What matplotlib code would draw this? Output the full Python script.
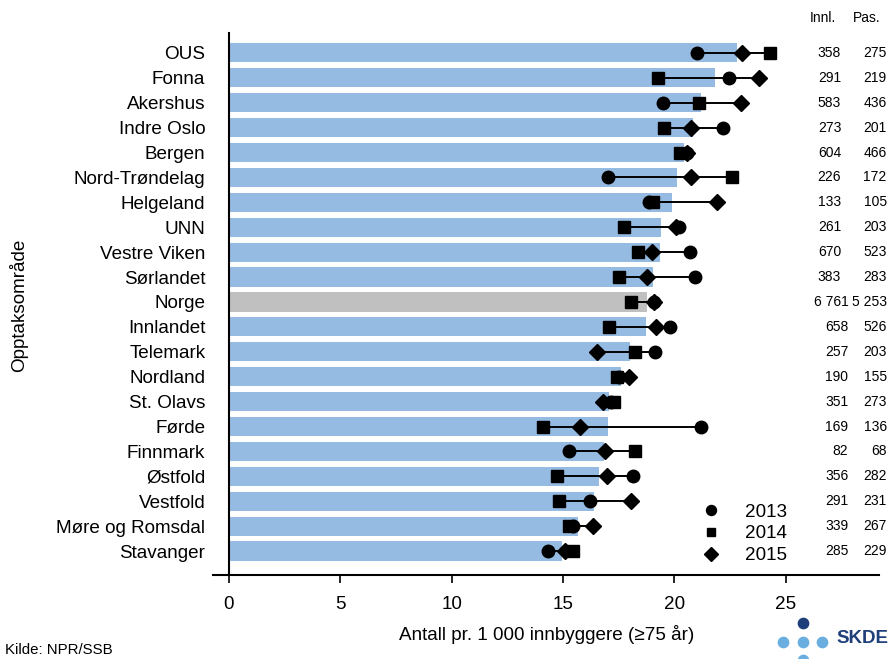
import matplotlib
matplotlib.use("Agg")
from matplotlib import pyplot as plt
from matplotlib.transforms import blended_transform_factory

areas = ["OUS", "Fonna", "Akershus", "Indre Oslo", "Bergen", "Nord-Trøndelag",
         "Helgeland", "UNN", "Vestre Viken", "Sørlandet", "Norge", "Innlandet",
         "Telemark", "Nordland", "St. Olavs", "Førde", "Finnmark", "Østfold",
         "Vestfold", "Møre og Romsdal", "Stavanger"]

# gjennomsnitt (bar)
avg = [22.79, 21.83, 21.21, 20.83, 20.44, 20.12, 19.91, 19.39, 19.36, 19.05, 18.75,
       18.70, 18.00, 17.62, 17.07, 17.00, 16.83, 16.61, 16.38, 15.69, 14.96]
y2013 = [20.99, 22.46, 19.49, 22.19, 20.54, 17.00, 18.87, 20.21, 20.71, 20.92, 19.09,
         19.82, 19.12, 17.49, 17.13, 21.17, 15.26, 18.15, 16.20, 15.45, 14.33]
y2014 = [24.28, 19.28, 21.11, 19.54, 20.24, 22.59, 19.05, 17.73, 18.37, 17.50, 18.07,
         17.06, 18.25, 17.40, 17.28, 14.11, 18.24, 14.74, 14.81, 15.27, 15.43]
y2015 = [23.01, 23.80, 22.97, 20.74, 20.54, 20.74, 21.89, 20.09, 18.97, 18.75, 19.09,
         19.17, 16.52, 17.97, 16.80, 15.75, 16.88, 16.98, 18.04, 16.32, 15.08]
innl = ["358", "291", "583", "273", "604", "226", "133", "261", "670", "383", "6 761",
        "658", "257", "190", "351", "169", "82", "356", "291", "339", "285"]
pas = ["275", "219", "436", "201", "466", "172", "105", "203", "523", "283", "5 253",
       "526", "203", "155", "273", "136", "68", "282", "231", "267", "229"]

plt.rcParams['font.family'] = ['Liberation Sans', 'DejaVu Sans']

fig = plt.figure(figsize=(8.92, 6.59), dpi=100)
ax = fig.add_axes([0.2392, 0.1275, 0.7467, 0.8225])

ypos = list(range(len(areas)))
colors = ["#c0c0c0" if a == "Norge" else "#95bbe3" for a in areas]
ax.barh(ypos, avg, height=0.77, color=colors, zorder=1)

lo = [min(a, b, c) for a, b, c in zip(y2013, y2014, y2015)]
hi = [max(a, b, c) for a, b, c in zip(y2013, y2014, y2015)]
ax.hlines(ypos, lo, hi, color="black", lw=1.4, zorder=2)
ax.plot(y2013, ypos, "o", color="black", ms=9, ls="none", zorder=3, label="2013")
ax.plot(y2014, ypos, "s", color="black", ms=8, ls="none", zorder=4, label="2014")
ax.plot(y2015, ypos, "D", color="black", ms=8.5, ls="none", zorder=5, label="2015")

ax.set_xlim(-0.7, 29.2)
ax.set_ylim(20.96, -0.8)
ax.spines["left"].set_position(("data", 0))
ax.set_yticks(ypos)
ax.set_yticklabels(areas, fontsize=13.6)
ax.tick_params(axis="y", length=0, pad=17)
ax.set_xticks([0, 5, 10, 15, 20, 25])
ax.tick_params(axis="x", labelsize=13.6, length=6, width=1.2, direction="out", pad=9)
for s in ["top", "right"]:
    ax.spines[s].set_visible(False)
ax.spines["left"].set_linewidth(1.5)
ax.spines["bottom"].set_linewidth(1.5)

ax.set_xlabel("Antall pr. 1 000 innbyggere (≥75 år)", fontsize=13.6, labelpad=9)
fig.text(0.021, 0.537, "Opptaksområde", rotation=90, fontsize=13.6, ha="center", va="center")

ax.legend(loc="upper left", bbox_to_anchor=(0.7216, 0.146), borderaxespad=0,
          frameon=False, fontsize=13.6, handletextpad=1.3, labelspacing=0.24,
          markerscale=0.8, handlelength=1.0)

# Innl. / Pas. kolonner
tr = blended_transform_factory(fig.transFigure, ax.transData)
fig.text(0.9226, 0.972, "Innl.", fontsize=10, ha="center", va="center")
fig.text(0.972, 0.972, "Pas.", fontsize=10, ha="center", va="center")
for y, a, b in zip(ypos, innl, pas):
    xa = 0.943 if y < 10 else 0.951
    ax.text(xa, y, a, transform=tr, fontsize=10, ha="right", va="center")
    ax.text(0.994, y, b, transform=tr, fontsize=10, ha="right", va="center")

fig.text(0.006, 0.0137, "Kilde: NPR/SSB", fontsize=10.8, ha="left", va="center")

# SKDE logo (pikselkoordinater)
lax = fig.add_axes([770 / 892, 0, 65 / 892, 40 / 659])
lax.set_xlim(770, 835)
lax.set_ylim(0, 40)
lax.axis("off")
lax.scatter([803], [36], s=55, color="#1f3f7a", clip_on=False)
lax.scatter([783, 803, 822, 803], [17, 17, 17, -1], s=55, color="#6aaee0", clip_on=False)
fig.text(0.938, 0.031, "SKDE", fontsize=13.5, fontweight="bold", color="#1f3f7a",
         ha="left", va="center")

fig.savefig("out.png", dpi=100)
